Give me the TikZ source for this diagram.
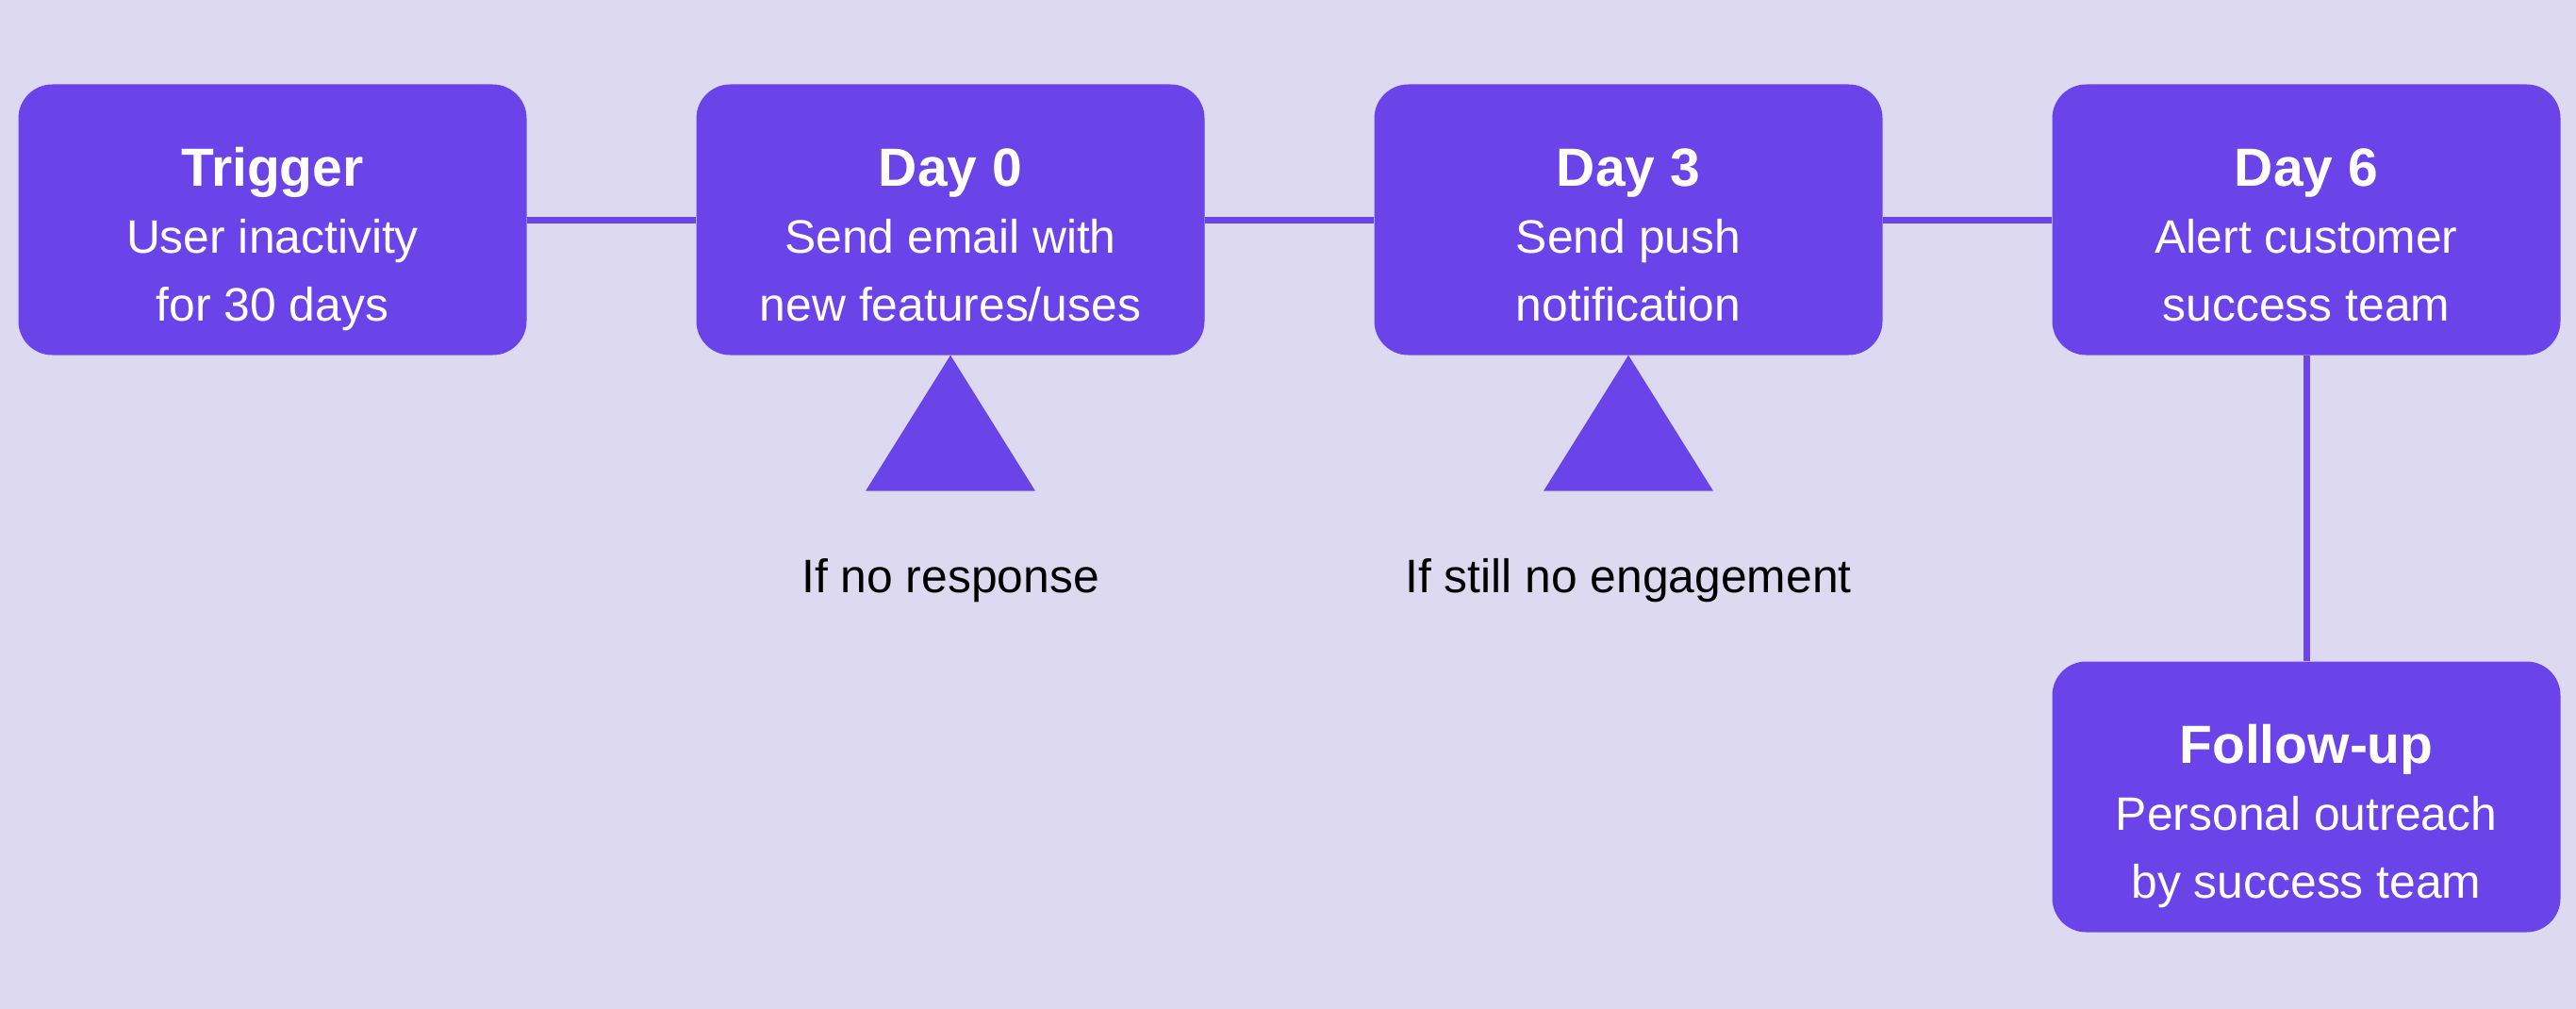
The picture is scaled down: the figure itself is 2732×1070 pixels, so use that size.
\documentclass[tikz,border=0pt]{standalone}
\usepackage{fontspec}
\setmainfont{Liberation Sans}
\definecolor{bg}{HTML}{DCD9F1}
\definecolor{vio}{HTML}{6A44E9}
\begin{document}
\begin{tikzpicture}[x=1pt,y=-1pt,
  box/.style={fill=vio, rounded corners=36pt, minimum width=539pt, minimum height=287pt, inner sep=0pt},
  ttl/.style={text=white, font=\fontsize{57}{68}\selectfont\bfseries, anchor=base, inner sep=0pt},
  bdy/.style={text=white, font=\fontsize{49.8}{59}\selectfont, anchor=base, inner sep=0pt},
  lbl/.style={text=black, font=\fontsize{49.8}{59}\selectfont, anchor=base, inner sep=0pt},
  link/.style={draw=vio, line width=7pt},
  tri/.style={fill=vio}]
\fill[bg] (0,0) rectangle (2732,1070);
\useasboundingbox (0,0) rectangle (2732,1070);

\node[box] (trig) at (289,233) {};
\node[box] (d0) at (1008,233) {};
\node[box] (d3) at (1727,233) {};
\node[box] (d6) at (2446,233) {};
\node[box] (fu) at (2446,845) {};

\draw[link] (trig.east) -- (d0.west);
\draw[link] (d0.east) -- (d3.west);
\draw[link] (d3.east) -- (d6.west);
\draw[link] (d6.south) -- (fu.north);

\fill[tri] (d0.south) -- ++(90,144) -- ++(-180,0) -- cycle;
\fill[tri] (d3.south) -- ++(90,144) -- ++(-180,0) -- cycle;

\node[ttl] (trig1) at (289,197) {Trigger};
\node[bdy] (trig2) at (289,268) {User inactivity};
\node[bdy] (trig3) at (289,340) {for 30 days};

\node[ttl] (d01) at (1008,197) {Day 0};
\node[bdy] (d02) at (1008,268) {Send email with};
\node[bdy] (d03) at (1008,340) {new features/uses};

\node[ttl] (d31) at (1727,197) {Day 3};
\node[bdy] (d32) at (1727,268) {Send push};
\node[bdy] (d33) at (1727,340) {notification};

\node[ttl] (d61) at (2446,197) {Day 6};
\node[bdy] (d62) at (2446,268) {Alert customer};
\node[bdy] (d63) at (2446,340) {success team};

\node[ttl] (fu1) at (2446,809) {Follow-up};
\node[bdy] (fu2) at (2446,880) {Personal outreach};
\node[bdy] (fu3) at (2446,952) {by success team};

\node[lbl] (l0) at (1008,628) {If no response};
\node[lbl] (l3) at (1727,628) {If still no engagement};
\end{tikzpicture}
\end{document}
